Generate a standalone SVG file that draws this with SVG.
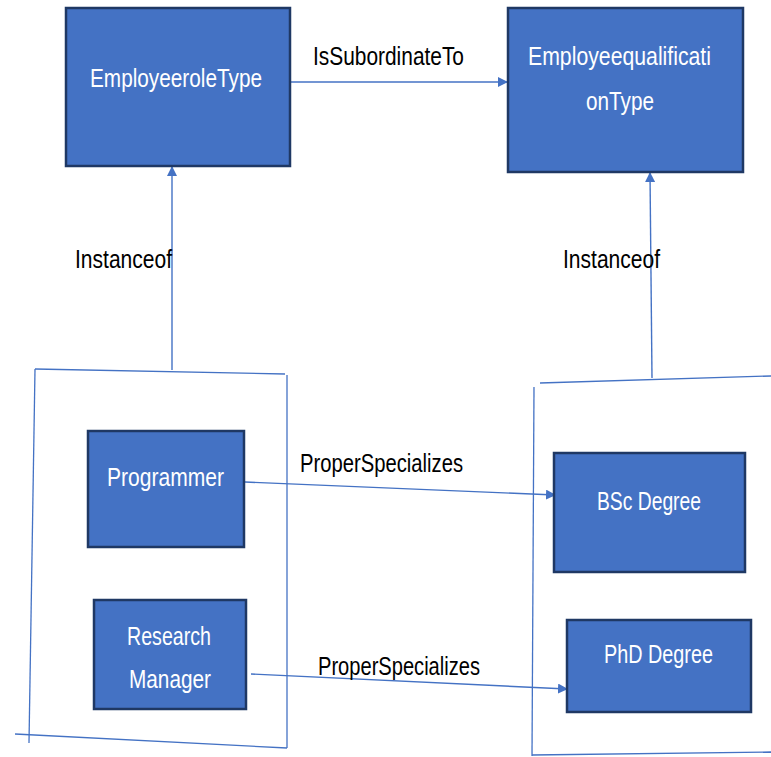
<svg xmlns="http://www.w3.org/2000/svg" width="771" height="757" viewBox="0 0 771 757">
  <style>
    .box { fill: #4472C4; stroke: #1F3864; stroke-width: 2.5; }
    .frame { fill: none; stroke: #4472C4; stroke-width: 1.3; }
    .link { fill: none; stroke: #4472C4; stroke-width: 1.4; }
    .in { font-family: "Liberation Sans", Arial, sans-serif; font-size: 25px; fill: #FFFFFF; }
    .lbl { font-family: "Liberation Sans", Arial, sans-serif; font-size: 25px; fill: #000000; }
  </style>
  <defs>
    <marker id="arrow" viewBox="0 0 10 10" refX="9" refY="5" markerWidth="10" markerHeight="10" orient="auto" markerUnits="userSpaceOnUse">
      <path d="M0,0 L10,5 L0,10 z" fill="#4472C4"/>
    </marker>
  </defs>
  <rect width="771" height="757" fill="#FFFFFF"/>

  <!-- hand-drawn containers -->
  <g id="left-frame">
    <line class="frame" x1="35" y1="369" x2="285" y2="374"/>
    <line class="frame" x1="35" y1="369" x2="29" y2="743"/>
    <line class="frame" x1="15" y1="734" x2="287" y2="748"/>
    <line class="frame" x1="287" y1="375" x2="287" y2="748"/>
  </g>
  <g id="right-frame">
    <line class="frame" x1="540" y1="383" x2="771" y2="376"/>
    <line class="frame" x1="534" y1="387" x2="532" y2="756"/>
    <line class="frame" x1="532" y1="755" x2="771" y2="752"/>
  </g>

  <!-- connectors -->
  <g id="connectors">
    <line class="link" x1="291" y1="82" x2="507" y2="82" marker-end="url(#arrow)"/>
    <line class="link" x1="172" y1="370" x2="172" y2="167" marker-end="url(#arrow)"/>
    <line class="link" x1="652" y1="378" x2="650" y2="173" marker-end="url(#arrow)"/>
    <line class="link" x1="245" y1="482" x2="555" y2="495" marker-end="url(#arrow)"/>
    <line class="link" x1="251" y1="674" x2="567" y2="689" marker-end="url(#arrow)"/>
    <text class="lbl" x="313" y="65" textLength="151" lengthAdjust="spacingAndGlyphs">IsSubordinateTo</text>
    <text class="lbl" x="75" y="268" textLength="97" lengthAdjust="spacingAndGlyphs">Instanceof</text>
    <text class="lbl" x="563" y="268" textLength="97" lengthAdjust="spacingAndGlyphs">Instanceof</text>
    <text class="lbl" x="300" y="472" textLength="163" lengthAdjust="spacingAndGlyphs">ProperSpecializes</text>
    <text class="lbl" x="318" y="675" textLength="162" lengthAdjust="spacingAndGlyphs">ProperSpecializes</text>
  </g>

  <!-- nodes -->
  <g id="employee-role-type">
    <rect class="box" x="66" y="8" width="224" height="158"/>
    <text class="in" x="90" y="87" textLength="172" lengthAdjust="spacingAndGlyphs">EmployeeroleType</text>
  </g>
  <g id="employee-qualification-type">
    <rect class="box" x="508" y="8" width="235" height="164"/>
    <text class="in" x="528" y="65" textLength="183" lengthAdjust="spacingAndGlyphs">Employeequalificati</text>
    <text class="in" x="586" y="110" textLength="68" lengthAdjust="spacingAndGlyphs">onType</text>
  </g>
  <g id="programmer">
    <rect class="box" x="88" y="431" width="156" height="116"/>
    <text class="in" x="107" y="486" textLength="117" lengthAdjust="spacingAndGlyphs">Programmer</text>
  </g>
  <g id="research-manager">
    <rect class="box" x="94" y="600" width="152" height="109"/>
    <text class="in" x="127" y="645" textLength="84" lengthAdjust="spacingAndGlyphs">Research</text>
    <text class="in" x="129" y="688" textLength="82" lengthAdjust="spacingAndGlyphs">Manager</text>
  </g>
  <g id="bsc-degree">
    <rect class="box" x="554" y="453" width="191" height="119"/>
    <text class="in" x="597" y="510" textLength="104" lengthAdjust="spacingAndGlyphs">BSc Degree</text>
  </g>
  <g id="phd-degree">
    <rect class="box" x="567" y="620" width="184" height="92"/>
    <text class="in" x="604" y="663" textLength="109" lengthAdjust="spacingAndGlyphs">PhD Degree</text>
  </g>
</svg>
